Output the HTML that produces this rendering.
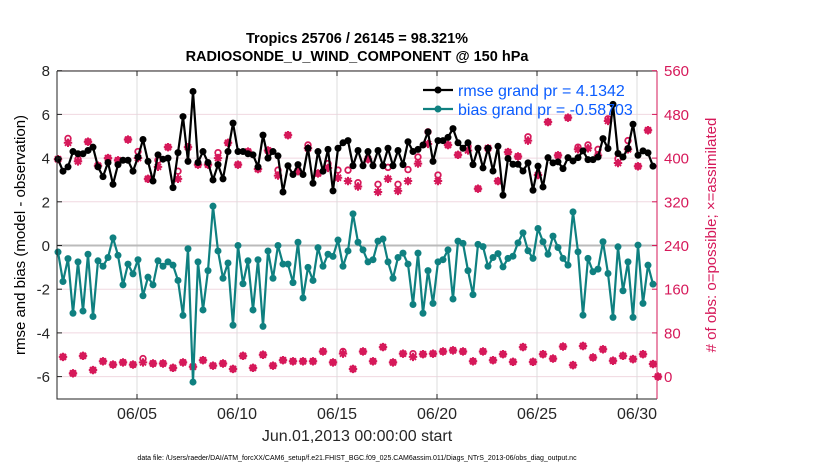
<!DOCTYPE html>
<html><head><meta charset="utf-8"><style>
body{margin:0;background:#fff;}
svg{font-family:"Liberation Sans",sans-serif;display:block}
</style></head><body>
<svg id="chart" width="830" height="470" viewBox="0 0 830 470" xmlns="http://www.w3.org/2000/svg">
<rect width="830" height="470" fill="#fff"/>
<text x="357" y="43" text-anchor="middle" font-size="14.5" font-weight="bold">Tropics 25706 / 26145 = 98.321%</text>
<text x="357" y="61" text-anchor="middle" font-size="14.5" font-weight="bold">RADIOSONDE_U_WIND_COMPONENT @ 150 hPa</text>
<g id="grid"></g>
<g id="marks"></g>
<g id="axes"></g>
<text transform="translate(25,235) rotate(-90)" text-anchor="middle" font-size="15">rmse and bias (model - observation)</text>
<text transform="translate(716,235) rotate(-90)" text-anchor="middle" font-size="15" fill="#d6195a"># of obs: o=possible; ×=assimilated</text>
<text x="357" y="441" text-anchor="middle" font-size="16" fill="#262626">Jun.01,2013 00:00:00 start</text>
<text x="357" y="460" text-anchor="middle" font-size="7">data file: /Users/raeder/DAI/ATM_forcXX/CAM6_setup/f.e21.FHIST_BGC.f09_025.CAM6assim.011/Diags_NTrS_2013-06/obs_diag_output.nc</text>
<g id="legend"></g>
</svg>
<script>
const rmse=[3.95,3.4,3.6,4.3,4.2,4.2,4.35,4.5,3.6,3.15,3.8,2.8,3.7,3.9,3.9,3.4,4.05,4.85,3.85,2.95,4.15,3.95,4.0,2.65,4.25,5.9,3.85,7.05,3.8,4.3,3.8,3.0,3.7,3.05,4.3,5.6,4.3,4.3,4.2,4.15,3.6,5.05,4.0,4.3,4.1,2.45,3.65,3.25,3.7,3.25,4.45,2.85,4.3,3.4,4.4,2.5,4.45,4.7,4.8,3.65,4.35,3.65,4.3,3.65,4.35,3.65,4.45,3.65,4.35,3.7,4.75,4.3,4.4,4.6,5.2,3.85,4.8,4.8,4.95,5.35,4.7,4.45,4.7,3.7,4.45,3.55,4.45,3.41,4.54,2.3,3.98,3.72,3.72,3.41,3.78,2.53,3.63,2.68,4.02,3.78,3.83,3.52,4.02,3.87,4.02,4.33,3.93,3.93,4.05,4.89,4.44,6.46,4.21,4.05,4.44,5.55,4.13,4.33,4.24,3.63];
const bias=[-0.3,-1.65,-0.6,-3.1,-0.75,-3.0,-0.4,-3.25,-0.7,-0.95,-0.55,0.35,-0.45,-1.8,-0.85,-1.3,-0.65,-2.3,-1.45,-1.8,-0.7,-0.95,-0.75,-0.9,-1.6,-3.2,-0.15,-6.25,-0.75,-2.95,-1.15,1.8,-0.25,-1.5,-0.8,-3.65,0.0,-1.75,-0.7,-2.95,-0.65,-3.7,-0.25,-1.5,0.0,-0.85,-0.85,-1.7,0.15,-2.4,-1.0,-1.6,-0.1,-0.95,-0.4,-0.5,0.25,-0.95,-0.25,1.45,0.15,-0.2,-0.75,-0.65,0.2,0.3,-0.75,-1.5,-0.55,-0.35,-0.85,-2.7,-0.35,-3.1,-1.15,-2.65,-0.75,-0.65,-0.2,-2.45,0.2,0.1,-1.15,-2.25,0.05,-0.05,-0.95,-0.55,-0.37,-0.98,-0.59,-0.49,0.12,0.58,-0.24,-0.59,0.78,0.17,-0.4,0.43,-0.09,-0.59,-0.9,1.54,-0.29,-3.19,-0.59,-1.2,-1.08,0.17,-1.28,-3.29,-0.06,-2.07,-0.75,-3.29,0.02,-2.65,-0.9,-1.77];
const possible=[398,36,436,6,398,38,430,12,386,28,400,22,396,26,434,22,412,33,362,24,396,24,420,16,376,26,420,18,388,30,388,20,410,24,428,14,388,38,412,16,380,40,414,20,378,30,442,28,376,28,424,28,372,46,390,26,378,46,378,14,355,46,398,28,352,54,383,26,352,42,379,42,402,41,448,42,369,46,424,48,406,46,422,28,344,46,418,30,358,41,411,27,403,54,439,27,369,41,466,33,405,55,474,21,420,56,424,35,416,50,472,29,399,38,432,32,385,41,451,23,0];
const assimilated=[398,36,428,6,394,38,430,12,386,28,400,22,396,26,434,22,400,26,362,24,384,24,420,16,362,26,420,18,388,30,388,20,400,24,428,14,388,38,412,16,380,40,414,20,368,30,442,28,376,28,418,28,372,46,382,26,364,42,358,14,348,46,398,28,338,54,362,26,340,42,358,36,390,41,426,42,358,46,424,48,406,46,414,28,344,46,418,30,358,41,411,27,403,54,432,27,369,41,466,33,405,55,474,21,416,56,418,35,405,50,468,29,391,38,416,32,385,41,451,23,0];
const xTickDays=[5,10,15,20,25,30];
const xTickLabels=["06/05","06/10","06/15","06/20","06/25","06/30"];
const yLeftTicks=[8,6,4,2,0,-2,-4,-6];
const yRightTicks=[560,480,400,320,240,160,80,0];
const legendLabels=["rmse grand pr = 4.1342","bias grand pr = -0.58703"];

const NS="http://www.w3.org/2000/svg";
const L=57,R=657,T=71,B=399;
const PINK="#d6195a",TEAL="#0f8080";
function xIdx(i){return 58+i*5;}
function xDay(d){return 57+(d-1)*20;}
function yL(v){return 245.5-21.85*v;}
function yR(c){return yL(c/40-6);}
function mk(tag,attrs,parent){const e=document.createElementNS(NS,tag);for(const k in attrs)e.setAttribute(k,attrs[k]);parent.appendChild(e);return e;}
const grid=document.getElementById('grid'),marks=document.getElementById('marks'),axes=document.getElementById('axes'),leg=document.getElementById('legend');

yLeftTicks.forEach(v=>{if(v===0)return;const g=mk('line',{x1:L,x2:R,y1:yL(v),y2:yL(v),stroke:'#f0d8e0','stroke-width':1},grid);

});
xTickDays.forEach(d=>{const g=mk('line',{x1:xDay(d),x2:xDay(d),y1:T,y2:B,stroke:'#dcdcdc','stroke-width':1},grid);

});
const z=mk('line',{x1:L,x2:R,y1:yL(0),y2:yL(0),stroke:'#bbbbbb','stroke-width':2},grid);



function star(cx,cy,parent){const s=4.2,d=3;
const p=mk('path',{d:`M${cx-s},${cy}H${cx+s}M${cx},${cy-s}V${cy+s}M${cx-d},${cy-d}L${cx+d},${cy+d}M${cx-d},${cy+d}L${cx+d},${cy-d}`,stroke:PINK,'stroke-width':2,fill:'none'},parent);

}
possible.forEach((c,i)=>{const x=xIdx(i);
const o=mk('circle',{cx:x,cy:yR(c),r:2.8,fill:'none',stroke:PINK,'stroke-width':1.8},marks);


star(x,yR(assimilated[i]),marks);});

function series(vals,color,name){
const pts=vals.map((v,i)=>xIdx(i)+','+yL(v)).join(' ');
const pl=mk('polyline',{points:pts,fill:'none',stroke:color,'stroke-width':2.2,'stroke-linejoin':'round'},marks);


vals.forEach((v,i)=>{const c=mk('circle',{cx:xIdx(i),cy:yL(v),r:3.5,fill:color},marks);

});}
series(rmse,'#000','rmse');
series(bias,TEAL,'bias');

const ax=mk('path',{d:`M${L},${T}H${R}M${L},${T}V${B}H${R}`,stroke:'#222','stroke-width':1,fill:'none'},axes);


const ra=mk('line',{x1:R,x2:R,y1:T,y2:B,stroke:PINK,'stroke-width':1},axes);


yLeftTicks.forEach(v=>{const y=yL(v);
mk('line',{x1:L,x2:L+5,y1:y,y2:y,stroke:'#222'},axes);
const t=mk('text',{x:L-7,y:y+5.5,'text-anchor':'end','font-size':15,fill:'#262626'},axes);t.textContent=v;

});
yRightTicks.forEach(c=>{const y=yR(c);
mk('line',{x1:R-5,x2:R,y1:y,y2:y,stroke:PINK},axes);
const t=mk('text',{x:R+7,y:y+5.5,'font-size':15,fill:PINK},axes);t.textContent=c;

});
xTickDays.forEach((d,k)=>{const x=xDay(d);
mk('line',{x1:x,x2:x,y1:B,y2:B-5,stroke:'#222'},axes);
mk('line',{x1:x,x2:x,y1:T,y2:T+5,stroke:'#222'},axes);
const t=mk('text',{x:x,y:B+20,'text-anchor':'middle','font-size':16,fill:'#262626'},axes);t.textContent=xTickLabels[k];

});

[['#000',0],[TEAL,1]].forEach(([col,k])=>{const y=90+k*19;
mk('line',{x1:423,x2:453,y1:y,y2:y,stroke:col,'stroke-width':2.2},leg);
mk('circle',{cx:438,cy:y,r:3.5,fill:col},leg);
const t=mk('text',{x:458,y:y+6,'font-size':16,fill:'#0a5cff'},leg);t.textContent=legendLabels[k];

});
</script>
</body></html>
